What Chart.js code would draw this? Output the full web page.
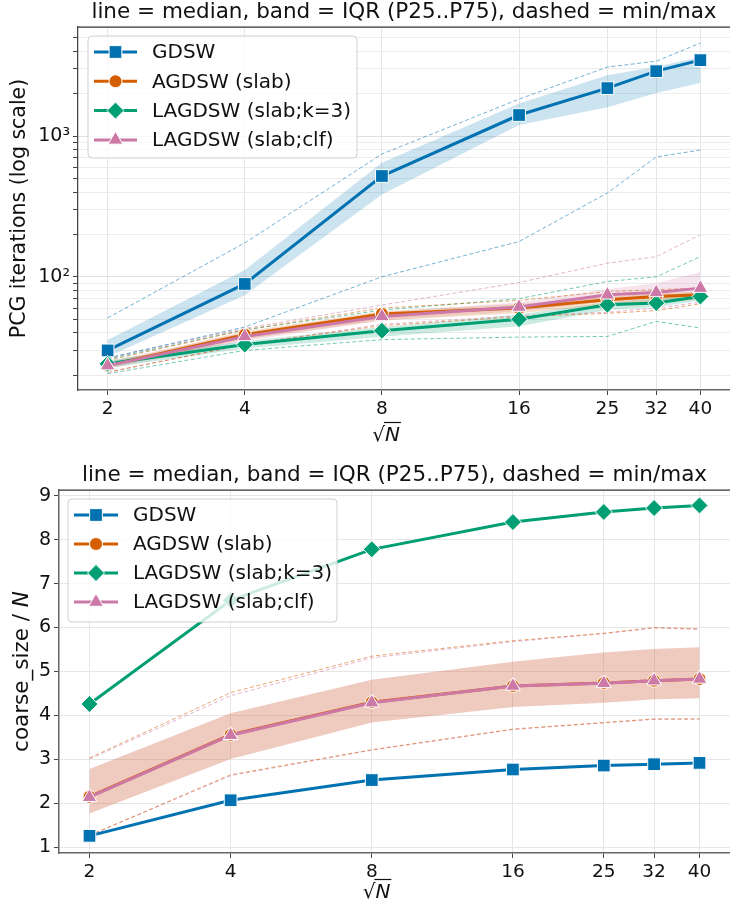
<!DOCTYPE html>
<html lang="en">
<head>
<meta charset="UTF-8">
<title>GDSW variants - iterations and coarse size</title>
<script src="https://cdn.jsdelivr.net/npm/chart.js@4"></script>
<style>
  body { margin: 0; background: #fff; overflow: hidden; width: 730px; height: 911px; }
  canvas { position: absolute; left: 0; }
  #iterChart { top: 0; }
  #coarseChart { top: 450px; }
</style>
</head>
<body>
<canvas id="iterChart" width="740" height="450"></canvas>
<canvas id="coarseChart" width="740" height="461"></canvas>
<script>
// ---- data ----
const sqrtN = [2, 4, 8, 16, 25, 32, 40];
const methods = ['GDSW', 'AGDSW (slab)', 'LAGDSW (slab;k=3)', 'LAGDSW (slab;clf)'];

// PCG iterations (one row per method)
const iterMedian = [
  [30, 89, 520, 1410, 2190, 2890, 3460],
  [23.5, 38.8, 54.5, 60, 68.7, 72.5, 74.5],
  [24.1, 33, 41.4, 50, 63.3, 65.1, 72.5],
  [23.4, 37.7, 52.3, 61, 74.5, 77.4, 83.1]
];
const iterP25 = [
  [27, 74, 385, 1200, 1600, 2020, 2380],
  [22.5, 36, 49, 55, 63, 66, 69],
  [22.5, 31, 37.5, 44.5, 58, 61, 68],
  [22, 35, 49, 57, 67, 71, 75]
];
const iterP75 = [
  [35.5, 112, 645, 1700, 2700, 3100, 3650],
  [24.5, 41, 57, 64, 72, 76, 79],
  [25.5, 35, 44, 54, 66, 70, 76],
  [25, 40, 56, 66, 82, 90, 108]
];
const iterMin = [
  [26.5, 44, 100, 178, 394, 710, 795],
  [21, 33, 45, 52, 55, 57.6, 64.4],
  [20.5, 30, 35.8, 37.3, 37.7, 48.2, 43.3],
  [21, 33, 46, 53, 56, 60, 66]
];
const iterMax = [
  [51, 174, 745, 1830, 3090, 3400, 4570],
  [25.5, 42, 60, 68, 78.6, 81, 83],
  [26, 42, 58, 70, 92.6, 100, 139],
  [26.5, 43, 63, 91, 125, 139, 199]
];
const iterTicks = [20, 30, 40, 50, 60, 70, 80, 90, 100, 200, 300, 400, 500, 600, 700, 800, 900,
  1000, 2000, 3000, 4000, 5000];

// coarse_size / N (null = no band / no min-max drawn)
const coarseMedian = [
  [1.26, 2.07, 2.53, 2.77, 2.86, 2.89, 2.92],
  [2.15, 3.56, 4.30, 4.67, 4.74, 4.79, 4.83],
  [4.26, 6.62, 7.78, 8.40, 8.63, 8.72, 8.78],
  [2.14, 3.55, 4.29, 4.67, 4.73, 4.79, 4.83]
];
const coarseP25 = [null, [1.77, 3.01, 3.84, 4.19, 4.29, 4.37, 4.39], null, [1.77, 3.01, 3.84, 4.19, 4.29, 4.37, 4.39]];
const coarseP75 = [null, [2.78, 4.05, 4.81, 5.22, 5.43, 5.51, 5.55], null, [2.78, 4.05, 4.81, 5.22, 5.43, 5.51, 5.55]];
const coarseMin = [null, [1.27, 2.65, 3.22, 3.69, 3.84, 3.92, 3.92], null, [1.27, 2.63, 3.21, 3.68, 3.83, 3.91, 3.92]];
const coarseMax = [null, [3.03, 4.52, 5.35, 5.70, 5.87, 6.00, 5.97], null, [3.01, 4.45, 5.31, 5.68, 5.86, 5.99, 5.96]];
const coarseTicks = [1, 2, 3, 4, 5, 6, 7, 8, 9];

const titleText = 'line = median, band = IQR (P25..P75), dashed = min/max';

// ---- style ----
const colors = ['#0072B2', '#D55E00', '#009E73', '#CC79A7'];
const markers = ['rect', 'circle', 'rectRot', 'triangle'];
const markerSize = [9, 6.5, 8.5, 8.5];
const FONT = 'DejaVu Sans';

function rgba(hex, a) {
  const n = parseInt(hex.slice(1), 16);
  return `rgba(${n >> 16},${(n >> 8) & 255},${n & 255},${a})`;
}

function pts(arr) {
  return sqrtN.map((x, k) => ({ x: x, y: arr[k] }));
}

function buildDatasets(med, p25, p75, lo, hi) {
  const ds = [];
  methods.forEach((name, i) => {
    if (p25[i]) {
      ds.push({ label: name + ' P25', data: pts(p25[i]), borderColor: 'transparent', borderWidth: 0,
        pointRadius: 0, fill: false, order: 30 });
      ds.push({ label: name + ' P75', data: pts(p75[i]), borderColor: 'transparent', borderWidth: 0,
        pointRadius: 0, fill: '-1', backgroundColor: rgba(colors[i], 0.2), order: 30 });
    }
    if (lo[i]) {
      [lo[i], hi[i]].forEach(arr => ds.push({
        label: name + ' min/max', data: pts(arr), borderColor: rgba(colors[i], 0.55), borderWidth: 1,
        borderDash: [4, 2.5], pointRadius: 0, fill: false, order: 20
      }));
    }
  });
  methods.forEach((name, i) => ds.push({
    label: name, data: pts(med[i]), borderColor: colors[i], borderWidth: 3,
    pointStyle: markers[i], pointRadius: markerSize[i], pointHoverRadius: markerSize[i],
    pointBackgroundColor: colors[i], pointBorderColor: '#fff', pointBorderWidth: 1,
    fill: false, order: 4 - i
  }));
  return ds;
}

function drawMarker(ctx, style, x, y, r, color) {
  ctx.beginPath();
  if (style === 'rect') {
    const s = r * Math.SQRT1_2;
    ctx.rect(x - s, y - s, 2 * s, 2 * s);
  } else if (style === 'circle') {
    ctx.arc(x, y, r, 0, 2 * Math.PI);
  } else if (style === 'rectRot') {
    ctx.moveTo(x - r, y); ctx.lineTo(x, y - r); ctx.lineTo(x + r, y); ctx.lineTo(x, y + r);
    ctx.closePath();
  } else {
    ctx.moveTo(x, y - r);
    ctx.lineTo(x + 0.866 * r, y + 0.5 * r);
    ctx.lineTo(x - 0.866 * r, y + 0.5 * r);
    ctx.closePath();
  }
  ctx.fillStyle = color;
  ctx.fill();
  ctx.strokeStyle = '#fff';
  ctx.lineWidth = 1;
  ctx.stroke();
}

// frame top line, axis titles and the in-plot legend
const decor = {
  id: 'decor',
  afterDraw(chart, args, o) {
    const { ctx, chartArea: a } = chart;
    ctx.save();
    ctx.strokeStyle = '#333';
    ctx.lineWidth = 1.25;
    ctx.beginPath(); ctx.moveTo(a.left, a.top); ctx.lineTo(a.right, a.top); ctx.stroke();

    // x title: sqrt N
    ctx.fillStyle = '#111';
    ctx.textBaseline = 'alphabetic';
    ctx.textAlign = 'left';
    ctx.font = `20px "${FONT}"`;
    const w1 = ctx.measureText('\u221A').width;
    ctx.font = `italic 20px "${FONT}"`;
    const w2 = ctx.measureText('N').width;
    const cx = (a.left + a.right) / 2 - 18;
    const x0 = cx - (w1 + w2) / 2;
    const by = a.bottom + o.xTitleOffset;
    ctx.font = `20px "${FONT}"`;
    ctx.fillText('\u221A', x0, by);
    ctx.font = `italic 20px "${FONT}"`;
    ctx.fillText('N', x0 + w1, by);
    ctx.lineWidth = 1.2;
    ctx.strokeStyle = '#111';
    ctx.beginPath(); ctx.moveTo(x0 + w1 - 1, by - 18.5); ctx.lineTo(x0 + w1 + w2 + 1, by - 18.5); ctx.stroke();

    // y title
    ctx.save();
    ctx.translate(o.yTitleX, (a.top + a.bottom) / 2);
    ctx.rotate(-Math.PI / 2);
    ctx.textBaseline = 'middle';
    const fs = o.yTitleSize;
    ctx.font = `${fs}px "${FONT}"`;
    const t1 = ctx.measureText(o.yTitle).width;
    ctx.font = `italic ${fs}px "${FONT}"`;
    const t2 = o.yTitleItalic ? ctx.measureText(o.yTitleItalic).width : 0;
    const tx = -(t1 + t2) / 2;
    ctx.font = `${fs}px "${FONT}"`;
    ctx.fillText(o.yTitle, tx, 0);
    if (o.yTitleItalic) {
      ctx.font = `italic ${fs}px "${FONT}"`;
      ctx.fillText(o.yTitleItalic, tx + t1, 0);
    }
    ctx.restore();

    // legend
    const L = o.legend;
    const bx = a.left + L.dx, byy = a.top + L.dy;
    ctx.beginPath();
    ctx.roundRect(bx, byy, L.w, L.h, 4);
    ctx.fillStyle = 'rgba(255,255,255,0.8)';
    ctx.fill();
    ctx.strokeStyle = '#d0d0d0';
    ctx.lineWidth = 1;
    ctx.stroke();
    ctx.font = `20px "${FONT}"`;
    ctx.textBaseline = 'middle';
    methods.forEach((m, i) => {
      const y = byy + L.row0 + i * L.rowH;
      ctx.strokeStyle = colors[i];
      ctx.lineWidth = 3;
      ctx.beginPath(); ctx.moveTo(bx + L.sx0, y); ctx.lineTo(bx + L.sx1, y); ctx.stroke();
      drawMarker(ctx, markers[i], bx + (L.sx0 + L.sx1) / 2, y, markerSize[i], colors[i]);
      ctx.fillStyle = '#111';
      ctx.fillText(m, bx + L.tx, y + 1);
    });
    ctx.restore();
  }
};

function xScale(h) {
  return {
    type: 'logarithmic', min: 1.722, max: 46.46,
    afterBuildTicks: s => { s.ticks = sqrtN.map(v => ({ value: v })); },
    afterFit: s => { s.height = h; },
    ticks: { callback: v => String(v), font: { family: FONT, size: 18.5 }, color: '#111',
      maxRotation: 0, autoSkip: false, padding: 3 },
    grid: { color: '#e6e6e6', tickColor: '#444', tickLength: 5, lineWidth: 1 },
    border: { color: '#666', width: 1.5 }
  };
}

function baseOptions(topPad) {
  return {
    responsive: false,
    animation: false,
    devicePixelRatio: 1,
    layout: { padding: { left: 0, right: 5, top: 0, bottom: 0 } },
    plugins: {
      legend: { display: false },
      tooltip: { enabled: false },
      title: { display: true, text: titleText, fullSize: false, color: '#111',
        font: { family: FONT, size: 21.5, weight: 'normal' }, padding: { top: topPad, bottom: 1.2 } }
    }
  };
}

// ---- top: PCG iterations ----
const opt1 = baseOptions(0);
opt1.plugins.decor = {
  xTitleOffset: 51, yTitleX: 20, yTitleSize: 20.5, yTitle: 'PCG iterations (log scale)', yTitleItalic: '',
  legend: { dx: 10, dy: 9, w: 269, h: 122, row0: 16, rowH: 29.3, sx0: 6, sx1: 49, tx: 64 }
};
opt1.scales = {
  x: xScale(60),
  y: {
    type: 'logarithmic', min: 15.7, max: 5950,
    afterBuildTicks: s => { s.ticks = iterTicks.map(v => ({ value: v })); },
    afterFit: s => { s.width = 78; },
    ticks: { callback: v => (v === 100 ? '10\u00B2' : v === 1000 ? '10\u00B3' : ''),
      font: { family: FONT, size: 19 }, color: '#111', autoSkip: false, padding: 3 },
    grid: { color: c => (c.tick && (c.tick.value === 100 || c.tick.value === 1000) ? '#e0e0e0' : '#ececec'),
      tickColor: '#444', tickLength: 5 },
    border: { color: '#444', width: 1.25 }
  }
};
new Chart(document.getElementById('iterChart'), {
  type: 'line',
  data: { datasets: buildDatasets(iterMedian, iterP25, iterP75, iterMin, iterMax) },
  options: opt1,
  plugins: [decor]
});

// ---- bottom: coarse size / N ----
const opt2 = baseOptions(13);
opt2.plugins.decor = {
  xTitleOffset: 45, yTitleX: 22, yTitleSize: 21.5, yTitle: 'coarse_size / ', yTitleItalic: 'N',
  legend: { dx: 9, dy: 9, w: 269, h: 123, row0: 16, rowH: 29, sx0: 6, sx1: 50, tx: 65 }
};
opt2.scales = {
  x: xScale(58),
  y: {
    type: 'linear', min: 0.87, max: 9.13,
    afterBuildTicks: s => { s.ticks = coarseTicks.map(v => ({ value: v })); },
    afterFit: s => { s.width = 59; },
    ticks: { callback: v => String(v), font: { family: FONT, size: 19 }, color: '#111',
      autoSkip: false, padding: 3 },
    grid: { color: '#e6e6e6', tickColor: '#444', tickLength: 5 },
    border: { color: '#666', width: 1.5 }
  }
};
new Chart(document.getElementById('coarseChart'), {
  type: 'line',
  data: { datasets: buildDatasets(coarseMedian, coarseP25, coarseP75, coarseMin, coarseMax) },
  options: opt2,
  plugins: [decor]
});
</script>
</body>
</html>
